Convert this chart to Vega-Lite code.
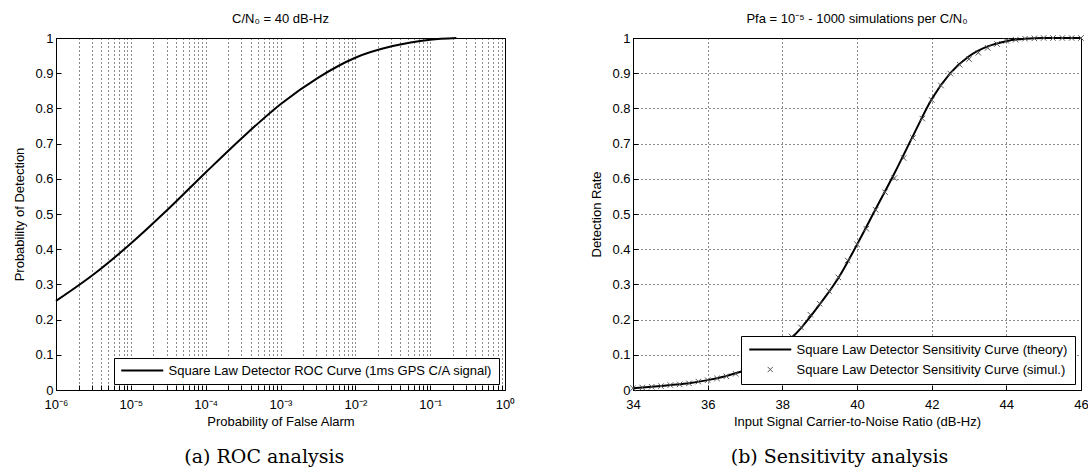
{
  "$schema": "https://vega.github.io/schema/vega-lite/v6.json",
  "background": "white",
  "padding": {"left": 13, "top": 12, "right": 2, "bottom": 0},
  "spacing": 74,
  "resolve": {"scale": {"color": "independent"}, "legend": {"color": "independent"}},
  "config": {
    "font": "Liberation Sans",
    "view": {"stroke": "black", "strokeWidth": 1},
    "axis": {
      "labelFont": "Liberation Sans", "labelFontSize": 13, "labelColor": "black",
      "titleFont": "Liberation Sans", "titleFontSize": 13, "titleFontWeight": "normal", "titleColor": "black",
      "domainColor": "black", "tickColor": "black", "tickSize": -5, "labelPadding": 8,
      "gridColor": "black", "gridDash": [1, 3], "gridOpacity": 0.9, "gridWidth": 1,
      "labelFlush": false, "labelOverlap": false
    },
    "axisX": {"labelPadding": 13},
    "legend": {"labelFont": "Liberation Sans", "labelFontSize": 13, "labelColor": "black"},
    "title": {"font": "Liberation Sans", "fontSize": 13, "fontWeight": "normal", "color": "black"}
  },
  "datasets": {
    "roc": [
      {"pfa": 0.000001, "pd": 0.253, "series": "Square Law Detector ROC Curve (1ms GPS C/A signal)"},
      {"pfa": 0.000003162, "pd": 0.328, "series": "Square Law Detector ROC Curve (1ms GPS C/A signal)"},
      {"pfa": 0.00001, "pd": 0.416, "series": "Square Law Detector ROC Curve (1ms GPS C/A signal)"},
      {"pfa": 0.00003162, "pd": 0.514, "series": "Square Law Detector ROC Curve (1ms GPS C/A signal)"},
      {"pfa": 0.0001, "pd": 0.618, "series": "Square Law Detector ROC Curve (1ms GPS C/A signal)"},
      {"pfa": 0.0003162, "pd": 0.719, "series": "Square Law Detector ROC Curve (1ms GPS C/A signal)"},
      {"pfa": 0.001, "pd": 0.812, "series": "Square Law Detector ROC Curve (1ms GPS C/A signal)"},
      {"pfa": 0.003162, "pd": 0.887, "series": "Square Law Detector ROC Curve (1ms GPS C/A signal)"},
      {"pfa": 0.01, "pd": 0.944, "series": "Square Law Detector ROC Curve (1ms GPS C/A signal)"},
      {"pfa": 0.03162, "pd": 0.977, "series": "Square Law Detector ROC Curve (1ms GPS C/A signal)"},
      {"pfa": 0.1, "pd": 0.995, "series": "Square Law Detector ROC Curve (1ms GPS C/A signal)"},
      {"pfa": 0.224, "pd": 1.0, "series": "Square Law Detector ROC Curve (1ms GPS C/A signal)"}
    ],
    "theory": [
      {"cn0": 34, "rate": 0.005, "series": "Square Law Detector Sensitivity Curve (theory)"},
      {"cn0": 34.5, "rate": 0.009, "series": "Square Law Detector Sensitivity Curve (theory)"},
      {"cn0": 35, "rate": 0.014, "series": "Square Law Detector Sensitivity Curve (theory)"},
      {"cn0": 35.5, "rate": 0.019, "series": "Square Law Detector Sensitivity Curve (theory)"},
      {"cn0": 36, "rate": 0.028, "series": "Square Law Detector Sensitivity Curve (theory)"},
      {"cn0": 36.5, "rate": 0.04, "series": "Square Law Detector Sensitivity Curve (theory)"},
      {"cn0": 37, "rate": 0.056, "series": "Square Law Detector Sensitivity Curve (theory)"},
      {"cn0": 37.5, "rate": 0.08, "series": "Square Law Detector Sensitivity Curve (theory)"},
      {"cn0": 38, "rate": 0.122, "series": "Square Law Detector Sensitivity Curve (theory)"},
      {"cn0": 38.5, "rate": 0.176, "series": "Square Law Detector Sensitivity Curve (theory)"},
      {"cn0": 39, "rate": 0.243, "series": "Square Law Detector Sensitivity Curve (theory)"},
      {"cn0": 39.5, "rate": 0.318, "series": "Square Law Detector Sensitivity Curve (theory)"},
      {"cn0": 40, "rate": 0.413, "series": "Square Law Detector Sensitivity Curve (theory)"},
      {"cn0": 40.5, "rate": 0.514, "series": "Square Law Detector Sensitivity Curve (theory)"},
      {"cn0": 41, "rate": 0.615, "series": "Square Law Detector Sensitivity Curve (theory)"},
      {"cn0": 41.5, "rate": 0.722, "series": "Square Law Detector Sensitivity Curve (theory)"},
      {"cn0": 42, "rate": 0.826, "series": "Square Law Detector Sensitivity Curve (theory)"},
      {"cn0": 42.5, "rate": 0.9, "series": "Square Law Detector Sensitivity Curve (theory)"},
      {"cn0": 43, "rate": 0.948, "series": "Square Law Detector Sensitivity Curve (theory)"},
      {"cn0": 43.5, "rate": 0.976, "series": "Square Law Detector Sensitivity Curve (theory)"},
      {"cn0": 44, "rate": 0.991, "series": "Square Law Detector Sensitivity Curve (theory)"},
      {"cn0": 44.5, "rate": 0.998, "series": "Square Law Detector Sensitivity Curve (theory)"},
      {"cn0": 45, "rate": 1.0, "series": "Square Law Detector Sensitivity Curve (theory)"},
      {"cn0": 46, "rate": 1.0, "series": "Square Law Detector Sensitivity Curve (theory)"}
    ],
    "simul": [
      {"cn0": 34, "rate": 0.005, "series": "Square Law Detector Sensitivity Curve (simul.)"},
      {"cn0": 34.25, "rate": 0.007, "series": "Square Law Detector Sensitivity Curve (simul.)"},
      {"cn0": 34.5, "rate": 0.009, "series": "Square Law Detector Sensitivity Curve (simul.)"},
      {"cn0": 34.75, "rate": 0.011, "series": "Square Law Detector Sensitivity Curve (simul.)"},
      {"cn0": 35, "rate": 0.014, "series": "Square Law Detector Sensitivity Curve (simul.)"},
      {"cn0": 35.25, "rate": 0.016, "series": "Square Law Detector Sensitivity Curve (simul.)"},
      {"cn0": 35.5, "rate": 0.019, "series": "Square Law Detector Sensitivity Curve (simul.)"},
      {"cn0": 35.75, "rate": 0.024, "series": "Square Law Detector Sensitivity Curve (simul.)"},
      {"cn0": 36, "rate": 0.028, "series": "Square Law Detector Sensitivity Curve (simul.)"},
      {"cn0": 36.25, "rate": 0.033, "series": "Square Law Detector Sensitivity Curve (simul.)"},
      {"cn0": 36.5, "rate": 0.039, "series": "Square Law Detector Sensitivity Curve (simul.)"},
      {"cn0": 36.75, "rate": 0.046, "series": "Square Law Detector Sensitivity Curve (simul.)"},
      {"cn0": 37, "rate": 0.056, "series": "Square Law Detector Sensitivity Curve (simul.)"},
      {"cn0": 37.25, "rate": 0.066, "series": "Square Law Detector Sensitivity Curve (simul.)"},
      {"cn0": 37.5, "rate": 0.08, "series": "Square Law Detector Sensitivity Curve (simul.)"},
      {"cn0": 37.75, "rate": 0.098, "series": "Square Law Detector Sensitivity Curve (simul.)"},
      {"cn0": 38, "rate": 0.122, "series": "Square Law Detector Sensitivity Curve (simul.)"},
      {"cn0": 38.25, "rate": 0.152, "series": "Square Law Detector Sensitivity Curve (simul.)"},
      {"cn0": 38.5, "rate": 0.178, "series": "Square Law Detector Sensitivity Curve (simul.)"},
      {"cn0": 38.75, "rate": 0.214, "series": "Square Law Detector Sensitivity Curve (simul.)"},
      {"cn0": 39, "rate": 0.245, "series": "Square Law Detector Sensitivity Curve (simul.)"},
      {"cn0": 39.25, "rate": 0.281, "series": "Square Law Detector Sensitivity Curve (simul.)"},
      {"cn0": 39.5, "rate": 0.32, "series": "Square Law Detector Sensitivity Curve (simul.)"},
      {"cn0": 39.75, "rate": 0.368, "series": "Square Law Detector Sensitivity Curve (simul.)"},
      {"cn0": 40, "rate": 0.414, "series": "Square Law Detector Sensitivity Curve (simul.)"},
      {"cn0": 40.25, "rate": 0.458, "series": "Square Law Detector Sensitivity Curve (simul.)"},
      {"cn0": 40.5, "rate": 0.512, "series": "Square Law Detector Sensitivity Curve (simul.)"},
      {"cn0": 40.75, "rate": 0.562, "series": "Square Law Detector Sensitivity Curve (simul.)"},
      {"cn0": 41, "rate": 0.602, "series": "Square Law Detector Sensitivity Curve (simul.)"},
      {"cn0": 41.25, "rate": 0.659, "series": "Square Law Detector Sensitivity Curve (simul.)"},
      {"cn0": 41.5, "rate": 0.716, "series": "Square Law Detector Sensitivity Curve (simul.)"},
      {"cn0": 41.75, "rate": 0.771, "series": "Square Law Detector Sensitivity Curve (simul.)"},
      {"cn0": 42, "rate": 0.824, "series": "Square Law Detector Sensitivity Curve (simul.)"},
      {"cn0": 42.25, "rate": 0.865, "series": "Square Law Detector Sensitivity Curve (simul.)"},
      {"cn0": 42.5, "rate": 0.899, "series": "Square Law Detector Sensitivity Curve (simul.)"},
      {"cn0": 42.75, "rate": 0.924, "series": "Square Law Detector Sensitivity Curve (simul.)"},
      {"cn0": 43, "rate": 0.94, "series": "Square Law Detector Sensitivity Curve (simul.)"},
      {"cn0": 43.25, "rate": 0.958, "series": "Square Law Detector Sensitivity Curve (simul.)"},
      {"cn0": 43.5, "rate": 0.972, "series": "Square Law Detector Sensitivity Curve (simul.)"},
      {"cn0": 43.75, "rate": 0.983, "series": "Square Law Detector Sensitivity Curve (simul.)"},
      {"cn0": 44, "rate": 0.992, "series": "Square Law Detector Sensitivity Curve (simul.)"},
      {"cn0": 44.25, "rate": 0.995, "series": "Square Law Detector Sensitivity Curve (simul.)"},
      {"cn0": 44.5, "rate": 0.998, "series": "Square Law Detector Sensitivity Curve (simul.)"},
      {"cn0": 44.75, "rate": 0.999, "series": "Square Law Detector Sensitivity Curve (simul.)"},
      {"cn0": 45, "rate": 1.0, "series": "Square Law Detector Sensitivity Curve (simul.)"},
      {"cn0": 45.25, "rate": 1.0, "series": "Square Law Detector Sensitivity Curve (simul.)"},
      {"cn0": 45.5, "rate": 1.0, "series": "Square Law Detector Sensitivity Curve (simul.)"},
      {"cn0": 45.75, "rate": 1.0, "series": "Square Law Detector Sensitivity Curve (simul.)"},
      {"cn0": 46, "rate": 1.0, "series": "Square Law Detector Sensitivity Curve (simul.)"}
    ]
  },
  "hconcat": [
    {
      "title": {"text": "(a) ROC analysis", "orient": "bottom", "anchor": "middle", "font": "DejaVu Serif", "fontSize": 19, "fontWeight": "normal", "offset": 19},
      "resolve": {"scale": {"color": "independent"}, "legend": {"color": "independent"}},
      "vconcat": [
        {
          "width": 449,
          "height": 352,
          "title": {"text": "C/N₀ = 40 dB-Hz", "offset": 6},
          "data": {"name": "roc"},
          "mark": {"type": "line", "strokeWidth": 2, "interpolate": "monotone"},
          "encoding": {
            "x": {
              "field": "pfa", "type": "quantitative",
              "scale": {"type": "log", "domain": [0.000001, 1], "nice": false},
              "axis": {
                "title": "Probability of False Alarm",
                "titlePadding": 4,
                "values": [0.000001, 0.000002, 0.000003, 0.000004, 0.000005, 0.000006, 0.000007, 0.000008, 0.000009,
                           0.00001, 0.00002, 0.00003, 0.00004, 0.00005, 0.00006, 0.00007, 0.00008, 0.00009,
                           0.0001, 0.0002, 0.0003, 0.0004, 0.0005, 0.0006, 0.0007, 0.0008, 0.0009,
                           0.001, 0.002, 0.003, 0.004, 0.005, 0.006, 0.007, 0.008, 0.009,
                           0.01, 0.02, 0.03, 0.04, 0.05, 0.06, 0.07, 0.08, 0.09,
                           0.1, 0.2, 0.3, 0.4, 0.5, 0.6, 0.7, 0.8, 0.9, 1],
                "grid": true,
                "labelExpr": "abs(log(datum.value)/LN10 - round(log(datum.value)/LN10)) < 0.001 ? ['10⁻⁶','10⁻⁵','10⁻⁴','10⁻³','10⁻²','10⁻¹','10⁰'][round(log(datum.value)/LN10) + 6] : ''"
              }
            },
            "y": {
              "field": "pd", "type": "quantitative",
              "scale": {"domain": [0, 1], "nice": false},
              "axis": {"title": "Probability of Detection", "values": [0, 0.1, 0.2, 0.3, 0.4, 0.5, 0.6, 0.7, 0.8, 0.9, 1], "format": "~g", "grid": false, "titlePadding": 8}
            },
            "color": {
              "field": "series", "type": "nominal",
              "scale": {"range": ["black"]},
              "legend": {
                "title": null, "orient": "bottom-right", "offset": 6, "padding": 6,
                "fillColor": "white", "strokeColor": "black",
                "symbolType": "M-1,0L7,0", "symbolSize": 110.25, "symbolStrokeWidth": 2,
                "labelOffset": 35.5, "labelLimit": 500
              }
            }
          }
        }
      ]
    },
    {
      "title": {"text": "(b) Sensitivity analysis", "orient": "bottom", "anchor": "middle", "font": "DejaVu Serif", "fontSize": 19, "fontWeight": "normal", "offset": 19},
      "resolve": {"scale": {"color": "independent"}, "legend": {"color": "independent"}},
      "vconcat": [
        {
          "width": 448,
          "height": 352,
          "title": {"text": "Pfa = 10⁻⁵ - 1000 simulations per C/N₀", "offset": 6},
          "encoding": {
            "x": {
              "field": "cn0", "type": "quantitative",
              "scale": {"domain": [34, 46], "nice": false},
              "axis": {"title": "Input Signal Carrier-to-Noise Ratio (dB-Hz)", "values": [34, 36, 38, 40, 42, 44, 46], "format": "d", "grid": true, "titlePadding": 4}
            },
            "y": {
              "field": "rate", "type": "quantitative",
              "scale": {"domain": [0, 1], "nice": false},
              "axis": {"title": "Detection Rate", "values": [0, 0.1, 0.2, 0.3, 0.4, 0.5, 0.6, 0.7, 0.8, 0.9, 1], "format": "~g", "grid": true, "titlePadding": 8}
            },
            "color": {
              "field": "series", "type": "nominal",
              "scale": {"domain": ["Square Law Detector Sensitivity Curve (theory)", "Square Law Detector Sensitivity Curve (simul.)"], "range": ["black", "#555555"]},
              "legend": {
                "title": null, "orient": "bottom-right", "offset": 6, "padding": 7, "rowPadding": 6,
                "fillColor": "white", "strokeColor": "black",
                "symbolType": "M-1,0L7,0", "symbolSize": 110.25, "symbolStrokeWidth": 2,
                "labelOffset": 35.5, "labelLimit": 500,
                "encode": {
                  "symbols": {
                    "update": {
                      "shape": {"signal": "datum.value === 'Square Law Detector Sensitivity Curve (theory)' ? 'M-1,0L7,0' : 'M2.5,-0.5L3.5,0.5M2.5,0.5L3.5,-0.5'"},
                      "strokeWidth": {"signal": "datum.value === 'Square Law Detector Sensitivity Curve (theory)' ? 2 : 1"},
                      "fill": {"value": "transparent"},
                      "size": {"value": 110.25}
                    }
                  }
                }
              }
            }
          },
          "layer": [
            {"data": {"name": "theory"}, "mark": {"type": "line", "strokeWidth": 2, "interpolate": "monotone"}},
            {"data": {"name": "simul"}, "mark": {"type": "point", "shape": "M-1,-1L1,1M1,-1L-1,1", "filled": false, "size": 30, "strokeWidth": 1, "opacity": 1}}
          ]
        }
      ]
    }
  ]
}
